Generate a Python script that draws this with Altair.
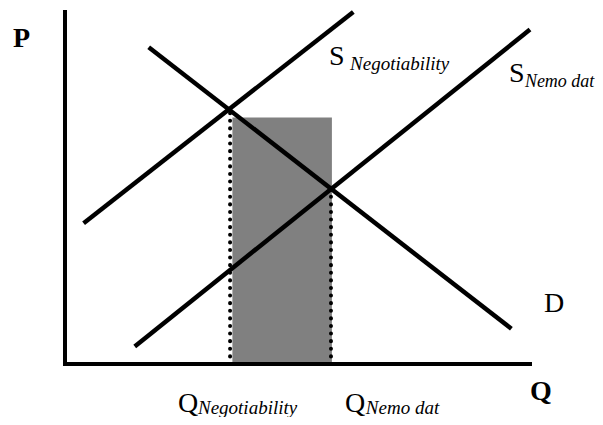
import altair as alt
import pandas as pd

# ---- data (economic units: Q on x, P on y) ----
curve_names = ["D", "S_Negotiability", "S_Nemo_dat"]
curve_q1 = [1.8, 0.4, 1.5]
curve_p1 = [9.0, 4.0, 0.5]
curve_q2 = [9.6, 6.2, 10.0]
curve_p2 = [1.0, 10.0, 9.5]

axis_names = ["P axis", "Q axis"]
axis_q1 = [0, 0]
axis_p1 = [0, 0]
axis_q2 = [0, 10]
axis_p2 = [10, 0]

eq_names = ["Q_Negotiability", "Q_Nemo_dat"]
eq_q = [3.55, 5.72]
eq_p = [7.23, 4.97]

rect_q1 = [3.6]
rect_q2 = [5.74]
rect_p1 = [0.0]
rect_p2 = [7.0]

# labels: main letters and subscripts
big_text = ["S", "S", "D", "Q", "Q"]
big_q = [5.68, 9.55, 10.3, 2.43, 6.02]
big_p = [8.49, 8.0, 1.48, -1.36, -1.36]

bold_text = ["P", "Q"]
bold_q = [-1.12, 10.0]
bold_p = [9.0, -1.02]

sub_text = ["Negotiability", "Negotiability", "Nemo dat"]
sub_q = [6.13, 2.86, 6.47]
sub_p = [8.35, -1.43, -1.43]

edge_sub_text = ["Nemo dat"]
edge_sub_q = [9.89]
edge_sub_p = [7.87]

# ---- chart ----
xs = alt.Scale(domain=[-1.2258, 11.398], nice=False, zero=False)
ys = alt.Scale(domain=[-1.506, 10.114], nice=False, zero=False)
FONT = "Liberation Serif"

rect_df = pd.DataFrame({"q1": rect_q1, "q2": rect_q2, "p1": rect_p1, "p2": rect_p2})
rect = alt.Chart(rect_df).mark_rect(color="#808080").encode(
    x=alt.X("q1:Q", scale=xs, axis=None), x2="q2:Q",
    y=alt.Y("p1:Q", scale=ys, axis=None), y2="p2:Q",
)

eq_df = pd.DataFrame({"name": eq_names, "q": eq_q, "p": eq_p, "zero": [0.0, 0.0]})
dots = alt.Chart(eq_df).mark_rule(
    color="black", strokeWidth=4, strokeDash=[0.1, 7.5], strokeCap="round"
).encode(
    x=alt.X("q:Q", scale=xs, axis=None),
    y=alt.Y("zero:Q", scale=ys, axis=None), y2="p:Q",
)

curve_df = pd.DataFrame({"name": curve_names, "q1": curve_q1, "p1": curve_p1,
                         "q2": curve_q2, "p2": curve_p2})
curves = alt.Chart(curve_df).mark_rule(color="black", strokeWidth=4.5, strokeCap="butt").encode(
    x=alt.X("q1:Q", scale=xs, axis=None), x2="q2:Q",
    y=alt.Y("p1:Q", scale=ys, axis=None), y2="p2:Q",
)

axis_df = pd.DataFrame({"name": axis_names, "q1": axis_q1, "p1": axis_p1,
                        "q2": axis_q2, "p2": axis_p2})
axes = alt.Chart(axis_df).mark_rule(color="black", strokeWidth=4, strokeCap="square").encode(
    x=alt.X("q1:Q", scale=xs, axis=None), x2="q2:Q",
    y=alt.Y("p1:Q", scale=ys, axis=None), y2="p2:Q",
)

big_df = pd.DataFrame({"t": big_text, "q": big_q, "p": big_p})
big = alt.Chart(big_df).mark_text(
    font=FONT, fontSize=28, align="left", baseline="alphabetic", color="black"
).encode(x=alt.X("q:Q", scale=xs, axis=None), y=alt.Y("p:Q", scale=ys, axis=None), text="t:N")

bold_df = pd.DataFrame({"t": bold_text, "q": bold_q, "p": bold_p})
bold = alt.Chart(bold_df).mark_text(
    font=FONT, fontSize=28, fontWeight="bold", align="left", baseline="alphabetic", color="black"
).encode(x=alt.X("q:Q", scale=xs, axis=None), y=alt.Y("p:Q", scale=ys, axis=None), text="t:N")

sub_df = pd.DataFrame({"t": sub_text, "q": sub_q, "p": sub_p})
sub = alt.Chart(sub_df).mark_text(
    font=FONT, fontSize=19, fontStyle="italic", align="left", baseline="alphabetic", color="black"
).encode(x=alt.X("q:Q", scale=xs, axis=None), y=alt.Y("p:Q", scale=ys, axis=None), text="t:N")

edge_df = pd.DataFrame({"t": edge_sub_text, "q": edge_sub_q, "p": edge_sub_p})
edge_sub = alt.Chart(edge_df).mark_text(
    font=FONT, fontSize=18, fontStyle="italic", align="left", baseline="alphabetic", color="black"
).encode(x=alt.X("q:Q", scale=xs, axis=None), y=alt.Y("p:Q", scale=ys, axis=None), text="t:N")

chart = alt.layer(rect, dots, curves, axes, big, bold, sub, edge_sub).properties(
    width=587, height=409, padding=0,
    autosize=alt.AutoSizeParams(type="none"),
    background="white",
).configure_view(stroke=None)

chart.save("out.html", embed_options={"renderer": "svg", "actions": False})
